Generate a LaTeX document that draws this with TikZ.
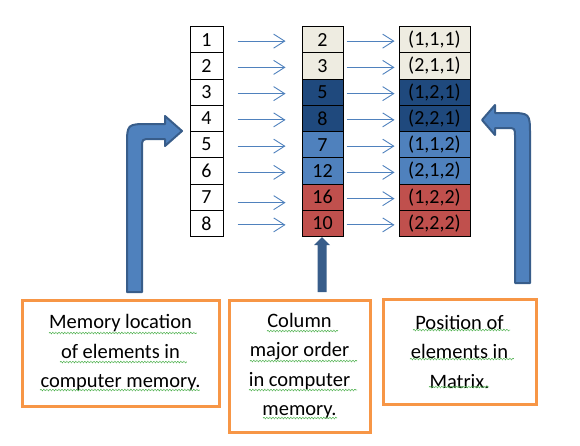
\documentclass[tikz,border=0pt]{standalone}
\usepackage{fontspec}
\setmainfont{Carlito}
\usetikzlibrary{arrows.meta,decorations.pathmorphing}
\definecolor{cream}{HTML}{EEECE1}
\definecolor{dblue}{HTML}{1F497D}
\definecolor{mblue}{HTML}{4F81BD}
\definecolor{redc}{HTML}{C0504D}
\definecolor{bord}{HTML}{385D8A}
\definecolor{orng}{HTML}{F79646}
\definecolor{sqgreen}{HTML}{4CB04C}
\begin{document}
\begin{tikzpicture}[x=1pt,y=-1pt,
  cell/.style={draw=black,line width=1pt,minimum height=26.25pt,inner sep=0pt,font=\fontsize{20}{24}\selectfont},
  cA/.style={cell,minimum width=33pt},
  cB/.style={cell,minimum width=41pt},
  cC/.style={cell,minimum width=71pt},
  sarrow/.style={draw=mblue,line width=0.9pt,-{Straight Barb[length=11pt,width=14pt]}},
  infobox/.style={draw=orng,line width=3pt,align=center,inner sep=0pt,font=\fontsize{20.5}{29.5}\selectfont},
  blockarrow/.style={fill=mblue,draw=bord,line width=2pt,line join=round},
  squig/.style={draw=sqgreen,line width=0.7pt,dash pattern=on 1pt off 0.6pt,decorate,decoration={snake,segment length=3pt,amplitude=0.8pt}}
]
\useasboundingbox (0,0) rectangle (580,445);
\foreach \i/\b/\c/\col in {1/2/{(1,1,1)}/cream, 2/3/{(2,1,1)}/cream, 3/5/{(1,2,1)}/dblue, 4/8/{(2,2,1)}/dblue, 5/7/{(1,1,2)}/mblue, 6/12/{(2,1,2)}/mblue, 7/16/{(1,2,2)}/redc, 8/10/{(2,2,2)}/redc}{
  \pgfmathsetmacro\yy{26.5+26.25*(\i-0.5)}
  \node[cA] (a\i) at (206.5,\yy) {\i};
  \node[cB,fill=\col] (b\i) at (322.5,\yy) {\b};
  \node[cC,fill=\col] (c\i) at (434.5,\yy) {\c};
}
\foreach \i in {1,...,8}{
  \pgfmathsetmacro\ys{\i==7 ? -5.5 : -1.5}
  \draw[sarrow,shorten <=14pt,shorten >=16pt] ([yshift=\ys pt]a\i.east) -- ([yshift=\ys pt]b\i.west);
  \draw[sarrow,shorten <=3pt,shorten >=4pt] ([yshift=-1.5pt]b\i.east) -- ([yshift=-1.5pt]c\i.west);
}
% info boxes
\node[infobox,minimum width=197pt,minimum height=106pt] (m1) at (120.5,353) {Memory location\\of elements in\\computer memory.};
\node[infobox,minimum width=141pt,minimum height=132pt] (m2) at (299.5,366) {Column\\major order\\in computer\\memory.};
\node[infobox,minimum width=153pt,minimum height=105pt] (m3) at (459.5,351.5) {Position of\\elements in\\Matrix.};
% spell-check underlines
\foreach \xa/\xb/\yl in {49/197/333, 60/187/362, 40/200/390, 267/338/331, 250/357/361, 249/357/390, 263/337/418, 413/510/330, 410/514/359, 429/489/387}{
  \draw[squig] (\xa,\yl) -- (\xb,\yl);
}
% left bent arrow
\draw[blockarrow] (127,292) -- (127,146) .. controls (127,124) .. (149,124) -- (165,124) -- (165,116) -- (182,131) -- (165,146) -- (165,139) -- (151,139) .. controls (142,139) .. (142,148) -- (142,292) -- cycle;
% right bent arrow
\draw[blockarrow] (530,283) -- (530,135) .. controls (530,113) .. (508,113) -- (495,113) -- (495,105) -- (482,120) -- (495,135) -- (495,128) -- (507,128) .. controls (515,128) .. (515,137) -- (515,283) -- cycle;
% middle arrow
\coordinate (mt) at (322,237);
\fill[bord] (317.5,292) -- (317.5,245) -- (314,245) -- (mt) -- (330,245) -- (326.5,245) -- (326.5,292) -- cycle;
\end{tikzpicture}
\end{document}
